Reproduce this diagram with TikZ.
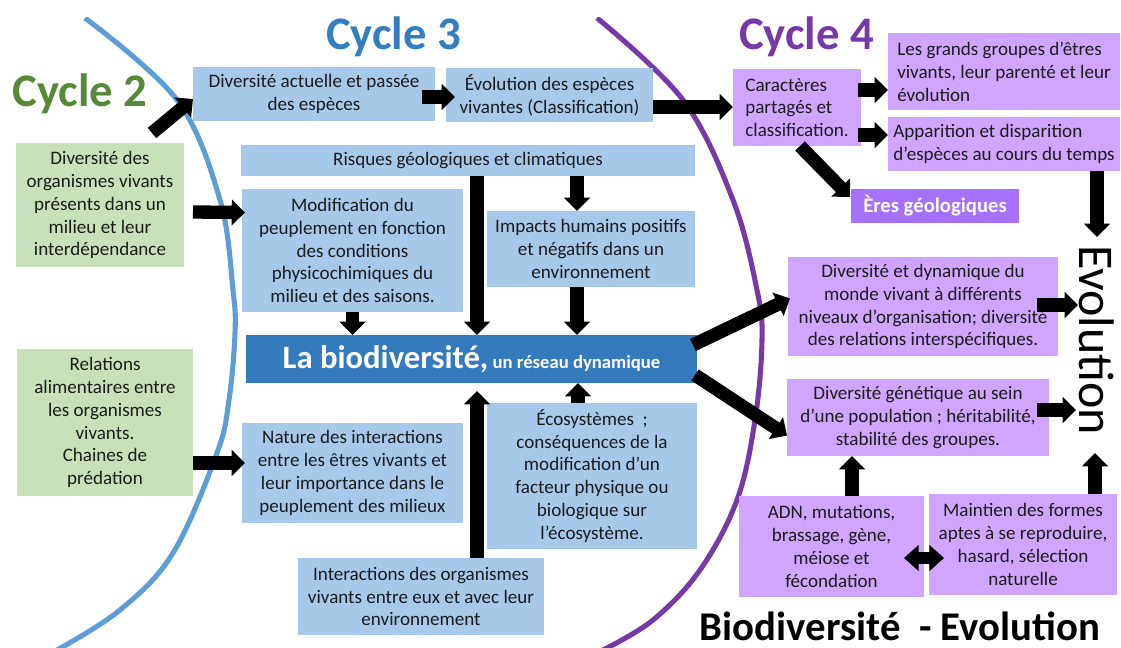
\documentclass[tikz,border=0pt]{standalone}
\usepackage{fontspec}
\setmainfont{Carlito}
\usetikzlibrary{arrows.meta,calc}
\definecolor{lblue}{RGB}{167,200,232}
\definecolor{dblue}{RGB}{52,123,189}
\definecolor{lgreen}{RGB}{201,225,186}
\definecolor{lpurple}{RGB}{207,165,255}
\definecolor{mpurple}{RGB}{165,112,250}
\definecolor{cgreen}{RGB}{88,136,58}
\definecolor{cblue}{RGB}{52,125,192}
\definecolor{cpurple}{RGB}{117,58,166}
\definecolor{arcblue}{RGB}{95,157,215}
\definecolor{arcpurple}{RGB}{117,58,166}
\definecolor{txt}{RGB}{28,28,28}
\begin{document}
\begin{tikzpicture}[x=0.75pt,y=-0.75pt,
  bx/.style={inner sep=0pt, outer sep=0pt, align=center, text=txt, font=\fontsize{14.3}{17.2}\selectfont},
  lb/.style={bx, fill=lblue},
  gb/.style={bx, fill=lgreen},
  pb/.style={bx, fill=lpurple},
  sz/.style 2 args={minimum width=#1, minimum height=#2},
  title/.style={font=\fontsize{35}{40}\selectfont\bfseries, anchor=base, inner sep=0pt},
  arr/.style={line width=10pt, black, -{Triangle[length=10pt,width=19pt]}},
  darr/.style={line width=9pt, black, {Triangle[length=11pt,width=19pt]}-{Triangle[length=11pt,width=19pt]}}
]
\useasboundingbox (0,0) rectangle (1121,648);
\fill[white] (0,0) rectangle (1121,648);

% arcs
\begin{scope}
\clip (0,18) rectangle (1121,648);
\draw[arcblue, line width=3.8pt] plot[smooth, tension=0.6] coordinates
 {(85,18) (177,100) (220,200) (233,290) (235,333) (229,400) (217,453) (173,553) (120,610) (57,650)};
\draw[arcpurple, line width=3.8pt] plot[smooth, tension=0.6] coordinates
 {(597,18) (683,100) (733,200) (757,290) (762,340) (755,420) (737,500) (700,570) (653,620) (603,650)};
\end{scope}

% titles
\node[title, text=cgreen] (c2) at (80,107) {Cycle 2};
\node[title, text=cblue] (c3) at (393.5,50) {Cycle 3};
\node[title, text=cpurple] (c4) at (806.5,50) {Cycle 4};

% green boxes
\node[gb, sz={126pt}{93pt}] (gA) at (100,205) {Diversité des\\organismes vivants\\présents dans un\\milieu et leur\\interdépendance};
\node[gb, sz={132pt}{110.25pt}] (gB) at (105,422.5) {Relations\\alimentaires entre\\les organismes\\vivants.\\Chaines de\\prédation};

% blue boxes
\node[lb, sz={181.5pt}{40.5pt}] (div) at (314,94) {Diversité actuelle et passée\\des espèces};
\node[lb, sz={155.25pt}{40.5pt}] (evo) at (549.5,95) {Évolution des espèces\\vivantes (Classification)};
\node[lb, sz={340.5pt}{23.25pt}] (risk) at (468,160.5) {Risques géologiques et climatiques};
\node[lb, sz={165.75pt}{92.25pt}] (mod) at (352.5,250.5) {Modification du\\peuplement en fonction\\des conditions\\physicochimiques du\\milieu et des saisons.};
\node[lb, sz={156pt}{57pt}] (imp) at (591,249) {Impacts humains positifs\\et négatifs dans un\\environnement};
\node[bx, fill=dblue, text=white, sz={338.25pt}{36pt}] (bio) at (471.5,359)
  {{\fontsize{24.5}{28}\selectfont\bfseries La biodiversité,} {\fontsize{14}{17}\selectfont\bfseries un réseau dynamique}};
\node[lb, sz={165.75pt}{75pt}] (nat) at (352.5,473) {Nature des interactions\\entre les êtres vivants et\\leur importance dans le\\peuplement des milieux};
\node[lb, sz={157.5pt}{109.5pt}] (eco) at (592,476) {Écosystèmes\ \ ;\\conséquences de la\\modification d’un\\facteur physique ou\\biologique sur\\l’écosystème.};
\node[lb, sz={184.5pt}{57.75pt}] (inter) at (421,596.5) {Interactions des organismes\\vivants entre eux et avec leur\\environnement};

% purple boxes
\node[pb, align=left, sz={96pt}{57.75pt}] (car) at (797,107.5) {Caractères\\partagés et\\classification.};
\node[pb, align=left, sz={174pt}{57.75pt}] (grp) at (1004,71.5) {Les grands groupes d’êtres\\vivants, leur parenté et leur\\évolution};
\node[pb, align=left, sz={174pt}{40.5pt}] (app) at (1004,144) {Apparition et disparition\\d’espèces au cours du temps};
\node[bx, fill=mpurple, text=white, font=\fontsize{15.5}{18}\selectfont\bfseries, sz={126pt}{25.5pt}] (eres) at (935,206) {Ères géologiques};
\node[pb, sz={202.5pt}{74.25pt}] (dyn) at (923,306.5) {Diversité et dynamique du\\monde vivant à différents\\niveaux d’organisation; diversité\\des relations interspécifiques.};
\node[pb, sz={196.5pt}{57.75pt}] (gen) at (918,417.5) {Diversité génétique au sein\\d’une population ; héritabilité,\\stabilité des groupes.};
\node[pb, sz={138.75pt}{75.75pt}] (adn) at (831.5,546.5) {ADN, mutations,\\brassage, gène,\\méiose et\\fécondation};
\node[pb, sz={141pt}{75.75pt}] (mai) at (1023,544.5) {Maintien des formes\\aptes à se reproduire,\\hasard, sélection\\naturelle};

% big texts
\node[rotate=-90, inner sep=0pt, font=\fontsize{37.5}{40}\selectfont, text=black] (evl) at (1097,340) {Evolution};
\node[inner sep=0pt, anchor=base, font=\fontsize{30.6}{34}\selectfont\bfseries, text=black] (bt) at (900,640) {Biodiversité \ - Evolution};

\coordinate (ev0) at (1097,237);
\coordinate (ev1) at (1078,305);
\coordinate (ev2) at (1076,410);
\coordinate (ev3) at (1095,453);

% arrows
\draw[arr] ($(gA.north east)+(-32,-10)$) -- ($(div.west)+(0,5)$);
\draw[arr] ($(gA.east)+(9,7)$) -- ($(mod.west)+(3,-38)$);
\draw[arr] ($(div.east)+(-13,3)$) -- ($(evo.west)+(9,2)$);
\draw[arr] ($(evo.east)+(0,12)$) -- ($(car.west)+(0,-0.5)$);
\draw[arr] ($(risk.south)+(9,0)$) -- ($(bio.north)+(5.5,0)$);
\draw[arr] ($(risk.south)+(109,0)$) -- ($(imp.north)+(-14,0)$);
\draw[arr] ($(imp.south)+(-14,0)$) -- ($(bio.north)+(105.5,0)$);
\draw[arr] (mod.south) -- ($(bio.north)+(-119,0)$);
\draw[arr] ($(gB.east)+(0,40.5)$) -- ($(nat.west)+(3,-10)$);
\draw[arr] ($(inter.north)+(56,0)$) -- ($(bio.south)+(5.5,8)$);
\draw[arr] ($(eco.north)+(-14,0)$) -- ($(bio.south)+(106.5,0)$);
\draw[arr] ($(bio.north east)+(-4,10)$) -- ($(dyn.west)+(2,-8)$);
\draw[arr] ($(bio.south east)+(-2,-8)$) -- ($(gen.west)+(0,18)$);
\draw[arr] ($(car.east)+(-3,-17.5)$) -- ($(grp.west)+(0,18.5)$);
\draw[arr] ($(car.east)+(-3,27.5)$) -- ($(app.west)+(0,-9)$);
\draw[arr] ($(car.south)+(3,0)$) -- ($(eres.west)+(-1,-9)$);
\draw[arr] ($(app.south)+(93,0)$) -- (ev0);
\draw[arr] ($(dyn.east)+(-21,-1.5)$) -- (ev1);
\draw[arr] ($(gen.east)+(-12,-7.5)$) -- (ev2);
\draw[arr] ($(adn.north)+(20.5,0)$) -- ($(gen.south)+(-66,0)$);
\draw[arr] ($(mai.north)+(72,0)$) -- (ev3);
\draw[darr] ($(adn.east)+(-20,11.5)$) -- ($(mai.west)+(15,13.5)$);
\end{tikzpicture}
\end{document}
